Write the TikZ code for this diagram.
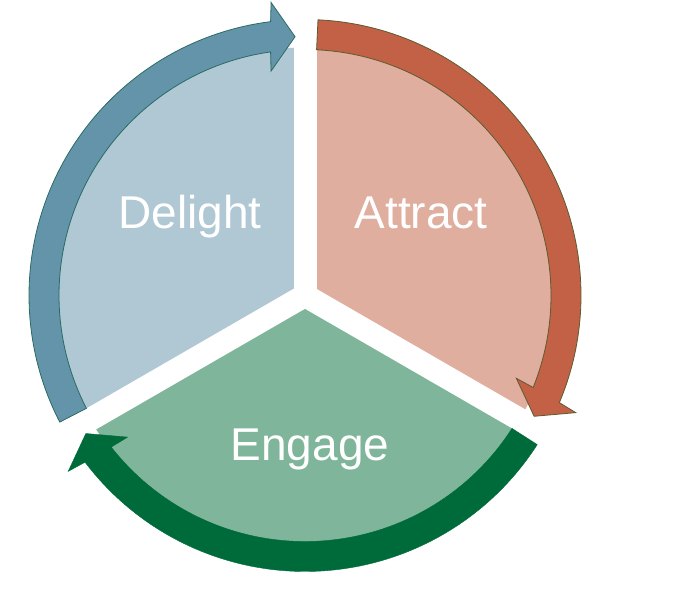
\documentclass[tikz,border=0pt]{standalone}
\usepackage{fontspec}
\setmainfont{Liberation Sans}
\definecolor{dlight}{HTML}{AFC8D4}
\definecolor{dband}{HTML}{6394AA}
\definecolor{dline}{HTML}{2C6B63}
\definecolor{alight}{HTML}{DFAE9F}
\definecolor{aband}{HTML}{C26145}
\definecolor{aline}{HTML}{5E5B32}
\definecolor{elight}{HTML}{7FB59A}
\definecolor{eband}{HTML}{006B3A}
\newcommand\ringarrow[3]{%
  \pgfmathsetmacro\arBO{#3+4.96}%
  \pgfmathsetmacro\arBI{#3+5.84}%
  \pgfmathsetmacro\arCO{#3+4.4}%
  \pgfmathsetmacro\arCI{#3+6.4}%
  \path[#1] (#2:276pt) arc[start angle=#2, end angle=\arBO, radius=276pt]
    -- (\arCO:295pt) -- (#3:259pt) -- (\arCI:227pt) -- (\arBI:246pt)
    arc[start angle=\arBI, end angle=#2, radius=246pt] -- cycle;}
\tikzset{
  label/.style={text=white, font=\fontsize{46}{52}\selectfont, anchor=base, inner sep=0pt},
  gapline/.style={draw=white, line width=23pt},
  bandblue/.style={fill=dband, draw=dline, line width=0.8pt, line join=miter},
  bandorange/.style={fill=aband, draw=aline, line width=0.8pt, line join=miter},
  bandgreen/.style={fill=eband, draw=eband, line width=0.4pt, line join=miter}
}
\begin{document}
\begin{tikzpicture}[x=1pt,y=1pt]
\useasboundingbox (-305,-300.5) rectangle (395,295.5);
\fill[white] (-305,-300.5) rectangle (395,295.5);
% sectors
\fill[dlight] (0,0) -- (90:248pt) arc[start angle=90, end angle=210, radius=248pt] -- cycle;
\fill[alight] (0,0) -- (-30:248pt) arc[start angle=-30, end angle=90, radius=248pt] -- cycle;
\fill[elight] (0,0) -- (210:248pt) arc[start angle=210, end angle=330, radius=248pt] -- cycle;
% gaps
\coordinate (c) at (0,0);
\coordinate (g1) at (90:300pt);
\coordinate (g2) at (210:300pt);
\coordinate (g3) at (330:300pt);
\draw[gapline] (c) -- (g1);
\draw[gapline] (c) -- (g2);
\draw[gapline] (c) -- (g3);
% arrows
\ringarrow{bandblue}{207.3}{92.2}
\ringarrow{bandorange}{87.3}{-27.8}
\ringarrow{bandgreen}{-32.7}{-147.8}
% labels
\node[label] (delight) at (-115,66.5) {Delight};
\node[label] (attract) at (116,66.5) {Attract};
\node[label] (engage) at (5,-164.5) {Engage};
\end{tikzpicture}
\end{document}
